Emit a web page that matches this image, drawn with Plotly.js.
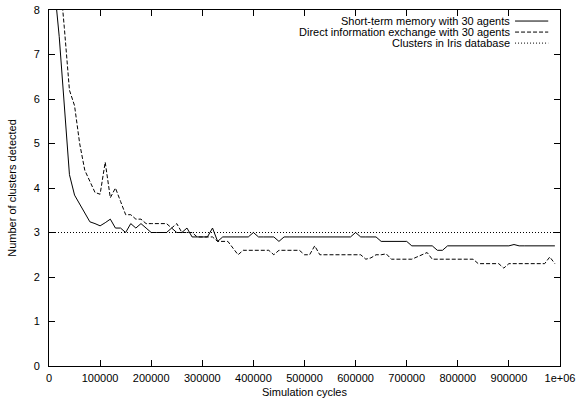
<!DOCTYPE html>
<html>
<head>
<meta charset="utf-8">
<script src="https://cdn.plot.ly/plotly-3.0.1.min.js"></script>
<style>html,body{margin:0;padding:0;background:#fff;}#chart{width:578px;height:403px;}</style>
</head>
<body>
<div id="chart"></div>
<script>
// Simulation cycles (x) — sampled every 10000 cycles
const cycles = [0,10000,20000,30000,40000,50000,60000,70000,80000,90000,
100000,110000,120000,130000,140000,150000,160000,170000,180000,190000,
200000,210000,220000,230000,240000,250000,260000,270000,280000,290000,
300000,310000,320000,330000,340000,350000,360000,370000,380000,390000,
400000,410000,420000,430000,440000,450000,460000,470000,480000,490000,
500000,510000,520000,530000,540000,550000,560000,570000,580000,590000,
600000,610000,620000,630000,640000,650000,660000,670000,680000,690000,
700000,710000,720000,730000,740000,750000,760000,770000,780000,790000,
800000,810000,820000,830000,840000,850000,860000,870000,880000,890000,
900000,910000,920000,930000,940000,950000,960000,970000,980000,990000];

// Short-term memory with 30 agents
const shortTermMemory = [12,8.6,7.4,5.8,4.3,3.84,3.65,3.45,3.24,3.2,
3.15,3.22,3.3,3.1,3.1,3.0,3.2,3.1,3.2,3.1,
3.0,3.0,3.0,3.0,3.1,3.0,3.0,3.1,2.9,2.9,
2.9,2.9,3.1,2.8,2.9,2.9,2.9,2.9,2.9,2.9,
3.0,2.9,2.9,2.9,2.9,2.8,2.9,2.9,2.9,2.9,
2.9,2.9,2.9,2.9,2.9,2.9,2.9,2.9,2.9,2.9,
3.0,2.9,2.9,2.9,2.9,2.8,2.8,2.8,2.8,2.8,
2.8,2.7,2.7,2.7,2.7,2.7,2.6,2.6,2.7,2.7,
2.7,2.7,2.7,2.7,2.7,2.7,2.7,2.7,2.7,2.7,
2.7,2.73,2.7,2.7,2.7,2.7,2.7,2.7,2.7,2.7];

// Direct information exchange with 30 agents
const directExchange = [14,11,8.9,7.6,6.2,5.85,5.0,4.4,4.15,3.9,
3.86,4.58,3.78,4.0,3.7,3.4,3.4,3.3,3.3,3.2,
3.2,3.2,3.2,3.2,3.1,3.2,3.0,3.0,3.0,2.9,
2.9,2.9,2.9,2.8,2.8,2.8,2.65,2.5,2.6,2.6,
2.6,2.6,2.6,2.6,2.5,2.6,2.6,2.6,2.6,2.6,
2.5,2.5,2.7,2.5,2.5,2.5,2.5,2.5,2.5,2.5,
2.5,2.5,2.4,2.43,2.5,2.5,2.52,2.4,2.4,2.4,
2.4,2.4,2.45,2.5,2.55,2.4,2.4,2.4,2.4,2.4,
2.4,2.4,2.4,2.4,2.3,2.3,2.3,2.3,2.3,2.2,
2.3,2.3,2.3,2.3,2.3,2.3,2.3,2.3,2.45,2.3];

// Reference: clusters in Iris database
const irisClusters = 3;

const seriesNames = ["Short-term memory with 30 agents",
                     "Direct information exchange with 30 agents",
                     "Clusters in Iris database"];
const seriesDash = ["solid", "4px,2px", "1px,2px"];

const xTickVals = [0,100000,200000,300000,400000,500000,600000,700000,800000,900000,1000000];
const xTickText = ["0","100000","200000","300000","400000","500000","600000","700000","800000","900000","1e+06"];
const yTickVals = [0,1,2,3,4,5,6,7,8];

const xRange = [0, 1000000];
const yRange = [0, 8];

const FONT = "Liberation Sans, Arial, Helvetica, sans-serif";

const traces = [
  {x: cycles, y: shortTermMemory, name: seriesNames[0], type: "scatter", mode: "lines",
   line: {color: "#000", width: 1, dash: seriesDash[0]}},
  {x: cycles, y: directExchange, name: seriesNames[1], type: "scatter", mode: "lines",
   line: {color: "#000", width: 1, dash: seriesDash[1]}},
  {x: xRange, y: [irisClusters, irisClusters], name: seriesNames[2], type: "scatter", mode: "lines",
   line: {color: "#000", width: 1, dash: seriesDash[2]}}
];

// gnuplot-style key: right-aligned text, sample line to its right
const keyTextX = 0.902, keyLineX0 = 0.912, keyLineX1 = 0.977;
const keyRowY = [0.969, 0.938, 0.907];
const annotations = seriesNames.map((n, i) => ({
  xref: "paper", yref: "paper", x: keyTextX, y: keyRowY[i],
  xanchor: "right", yanchor: "middle", text: n, showarrow: false,
  borderpad: 0, borderwidth: 0,
  font: {family: FONT, size: 11, color: "#000"}
}));
const shapes = seriesNames.map((n, i) => ({
  type: "line", xref: "paper", yref: "paper",
  x0: keyLineX0, x1: keyLineX1, y0: keyRowY[i], y1: keyRowY[i],
  line: {color: "#000", width: 1, dash: seriesDash[i]}
}));

const layout = {
  width: 578, height: 403,
  margin: {l: 49, r: 18, t: 10, b: 37, pad: 0},
  paper_bgcolor: "#fff", plot_bgcolor: "#fff",
  showlegend: false,
  font: {family: FONT, size: 11, color: "#000"},
  xaxis: {
    range: xRange, tickvals: xTickVals, ticktext: xTickText,
    ticks: "inside", ticklen: 6, tickwidth: 1, tickcolor: "#000",
    showline: true, linecolor: "#000", linewidth: 1, mirror: "allticks",
    showgrid: false, zeroline: false, ticklabelstandoff: 2,
    tickfont: {family: FONT, size: 11, color: "#000"},
    title: {text: "Simulation cycles", font: {family: FONT, size: 11, color: "#000"}, standoff: 5}
  },
  yaxis: {
    range: yRange, tickvals: yTickVals,
    ticks: "inside", ticklen: 6, tickwidth: 1, tickcolor: "#000",
    showline: true, linecolor: "#000", linewidth: 1, mirror: "allticks",
    showgrid: false, zeroline: false, ticklabelstandoff: 6,
    tickfont: {family: FONT, size: 11, color: "#000"},
    title: {text: "Number of clusters detected", font: {family: FONT, size: 11, color: "#000"}, standoff: 14}
  },
  annotations: annotations,
  shapes: shapes
};

Plotly.newPlot("chart", traces, layout, {staticPlot: true, displayModeBar: false});
</script>
</body>
</html>
